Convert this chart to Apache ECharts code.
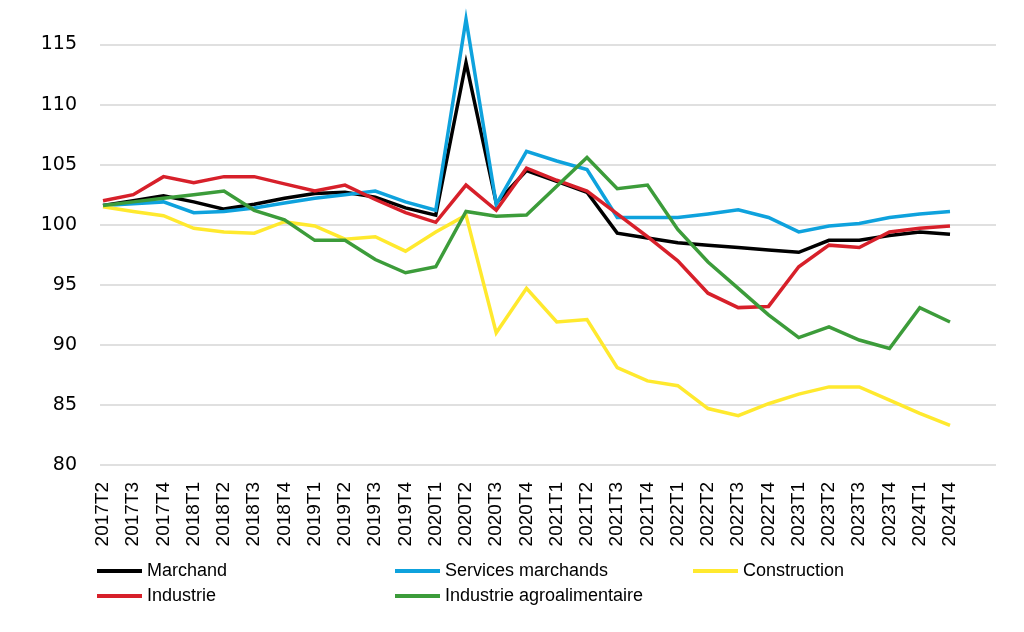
<!DOCTYPE html>
<html>
<head>
<meta charset="utf-8">
<script src="https://cdn.jsdelivr.net/npm/echarts@6/dist/echarts.min.js"></script>
<style>
html,body{margin:0;padding:0;background:#ffffff;}
#chart{width:1024px;height:632px;}
</style>
</head>
<body>
<div id="chart"></div>
<script>
const categories = ['2017T2','2017T3','2017T4','2018T1','2018T2','2018T3','2018T4','2019T1','2019T2','2019T3','2019T4','2020T1','2020T2','2020T3','2020T4','2021T1','2021T2','2021T3','2021T4','2022T1','2022T2','2022T3','2022T4','2023T1','2023T2','2023T3','2023T4','2024T1','2024T4'];
const marchand = [101.6,102.0,102.4,101.9,101.3,101.7,102.2,102.6,102.7,102.3,101.4,100.8,113.5,101.8,104.5,103.6,102.7,99.3,98.9,98.5,98.3,98.1,97.9,97.7,98.7,98.7,99.1,99.4,99.2];
const servicesMarchands = [101.6,101.75,101.9,101.0,101.1,101.4,101.8,102.2,102.5,102.8,101.9,101.2,117.1,101.7,106.1,105.3,104.6,100.6,100.6,100.6,100.9,101.25,100.6,99.4,99.9,100.1,100.6,100.9,101.1];
const construction = [101.5,101.1,100.75,99.7,99.4,99.3,100.25,99.9,98.8,99.0,97.8,99.4,100.8,91.0,94.7,91.9,92.1,88.1,87.0,86.6,84.7,84.1,85.1,85.9,86.5,86.5,85.4,84.3,83.3];
const industrie = [102.0,102.5,104.0,103.5,104.0,104.0,103.4,102.8,103.3,102.1,101.0,100.2,103.3,101.2,104.7,103.7,102.8,100.9,99.0,97.0,94.3,93.1,93.2,96.5,98.3,98.1,99.4,99.7,99.9];
const agroalimentaire = [101.6,101.9,102.2,102.5,102.8,101.2,100.4,98.7,98.7,97.1,96.0,96.5,101.1,100.7,100.8,103.2,105.6,103.0,103.3,99.6,96.9,94.7,92.5,90.6,91.5,90.4,89.7,93.1,91.9];
const yMin = 80, yMax = 115, yStep = 5;

const chart = echarts.init(document.getElementById('chart'), null, {renderer:'canvas'});
const mk = (name, data, color) => ({
  name, type:'line', data, xAxisIndex:1, yAxisIndex:1,
  symbol:'none', clip:false,
  lineStyle:{color, width:3.5, join:'miter'},
  itemStyle:{color}
});
const legendBase = {
  left:92, width:950, orient:'horizontal', icon:'rect',
  itemWidth:45, itemHeight:4, itemGap:8,
  textStyle:{fontFamily:'Liberation Sans, Arial, sans-serif', fontSize:18, color:'#000', width:240, lineHeight:20},
  selectedMode:false
};
chart.setOption({
  backgroundColor:'#ffffff',
  animation:false,
  grid:[
    {left:100, right:28, top:44.5, bottom:167, containLabel:false},
    {left:103, right:74, top:44.5, bottom:167, containLabel:false}
  ],
  xAxis:[
    {type:'value', gridIndex:0, show:false, min:0, max:1},
    {type:'category', gridIndex:1, data:categories, boundaryGap:false,
     axisLine:{show:false}, axisTick:{show:false}, splitLine:{show:false},
     axisLabel:{rotate:90, interval:0, margin:17, fontFamily:'Liberation Sans, Arial, sans-serif', fontSize:19, color:'#000'}}
  ],
  yAxis:[
    {type:'value', gridIndex:0, min:yMin, max:yMax, interval:yStep,
     axisLine:{show:false}, axisTick:{show:false},
     splitLine:{lineStyle:{color:'#d6d6d6', width:1.5}},
     axisLabel:{margin:23, fontFamily:'DejaVu Sans, sans-serif', fontSize:19, color:'#000'}},
    {type:'value', gridIndex:1, min:yMin, max:yMax, interval:yStep, show:false, splitLine:{show:false}}
  ],
  legend:[
    Object.assign({}, legendBase, {top:556, data:['Marchand','Services marchands','Construction']}),
    Object.assign({}, legendBase, {top:581, data:['Industrie','Industrie agroalimentaire']})
  ],
  series:[
    mk('Marchand', marchand, '#000000'),
    mk('Services marchands', servicesMarchands, '#0ea2dd'),
    mk('Construction', construction, '#ffe92e'),
    mk('Industrie', industrie, '#d7202a'),
    mk('Industrie agroalimentaire', agroalimentaire, '#3c9c3a')
  ]
});
</script>
</body>
</html>
